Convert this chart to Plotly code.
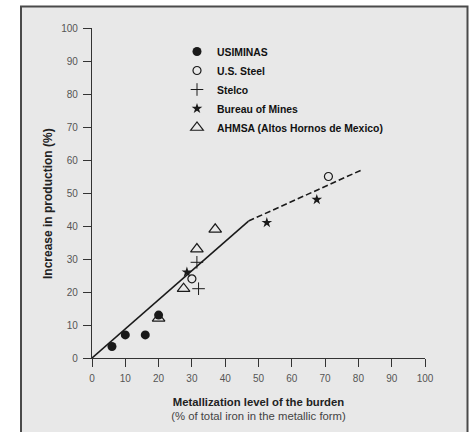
import plotly.graph_objects as go

# ---- data ----
usiminas_x = [6, 10, 16, 20]
usiminas_y = [3.5, 7, 7, 13]

ussteel_x = [30, 71]
ussteel_y = [24, 55]

stelco_x = [31.5, 32]
stelco_y = [29, 21]

bom_x = [28.5, 52.5, 67.5]
bom_y = [26, 41, 48]

ahmsa_x = [20, 27.5, 31.5, 37]
ahmsa_y = [12, 21, 33, 39]

trend_solid_x = [0, 47]
trend_solid_y = [0, 41.5]
trend_dash_x = [47, 81]
trend_dash_y = [41.5, 57]

x_ticks = [0, 10, 20, 30, 40, 50, 60, 70, 80, 90, 100]
y_ticks = [0, 10, 20, 30, 40, 50, 60, 70, 80, 90, 100]

FONT = "Liberation Sans, Arial, Helvetica, sans-serif"
INK = "#1a1a1a"

fig = go.Figure()

fig.add_trace(go.Scatter(x=trend_solid_x, y=trend_solid_y, mode="lines",
                         line=dict(color=INK, width=1.6), showlegend=False,
                         hoverinfo="skip"))
fig.add_trace(go.Scatter(x=trend_dash_x, y=trend_dash_y, mode="lines",
                         line=dict(color=INK, width=1.6, dash="6px,3px"),
                         showlegend=False, hoverinfo="skip"))

fig.add_trace(go.Scatter(x=usiminas_x, y=usiminas_y, mode="markers", name="USIMINAS",
                         marker=dict(symbol="circle", size=9, color=INK)))
fig.add_trace(go.Scatter(x=ussteel_x, y=ussteel_y, mode="markers", name="U.S. Steel",
                         marker=dict(symbol="circle-open", size=8, color=INK,
                                     line=dict(width=1.2))))
fig.add_trace(go.Scatter(x=stelco_x, y=stelco_y, mode="markers", name="Stelco",
                         marker=dict(symbol="cross-thin", size=9, color=INK,
                                     line=dict(width=1, color=INK))))
fig.add_trace(go.Scatter(x=bom_x, y=bom_y, mode="markers", name="Bureau of Mines",
                         marker=dict(symbol="star", size=8, color=INK)))
fig.add_trace(go.Scatter(x=ahmsa_x, y=ahmsa_y, mode="markers",
                         name="AHMSA (Altos Hornos de Mexico)",
                         marker=dict(symbol="triangle-up-open", size=11, color=INK,
                                     line=dict(width=1.2))))

L, R, T, B = 92, 45, 28, 74
W, H = 470, 432
pw, ph = W - L - R, H - T - B


def px(xp):
    return (xp - L) / pw


def py(yp):
    return (H - B - yp) / ph


# scanned-page frame
fig.add_shape(type="rect", xref="paper", yref="paper",
              x0=px(21), x1=px(467.5), y0=py(445), y1=py(6.5),
              line=dict(color="#4a4a4a", width=2), fillcolor="#e8e8e8",
              layer="below")

axis_common = dict(
    showgrid=False, zeroline=False, showline=True, linecolor="#333333", linewidth=1.2,
    ticks="outside", ticklen=8, tickwidth=1.2, tickcolor="#333333",
    tickfont=dict(family=FONT, size=10, color="#555555"),
    ticklabelstandoff=3,
    range=[0, 100],
)

fig.update_xaxes(**axis_common, tickvals=x_ticks,
                 title=dict(text="<b>Metallization level of the burden</b><br>"
                                 "<span style='color:#444'>(% of total iron in the metallic form)</span>",
                            font=dict(family=FONT, size=11.3, color="#222222"),
                            standoff=14))
fig.update_yaxes(**axis_common, tickvals=y_ticks)

fig.add_annotation(text="<b>Increase in production (%)</b>", textangle=-90,
                   xref="paper", yref="paper", x=px(48), y=py(204),
                   xanchor="center", yanchor="middle", showarrow=False,
                   font=dict(family=FONT, size=12, color="#222222"))

fig.update_layout(
    width=W, height=H,
    margin=dict(l=L, r=R, t=T, b=B),
    paper_bgcolor="white",
    plot_bgcolor="rgba(0,0,0,0)",
    legend=dict(x=px(177), y=py(37), xanchor="left", yanchor="top",
                bgcolor="rgba(0,0,0,0)", borderwidth=0,
                font=dict(family=FONT, size=10.4, color="#111111", weight="bold"),
                tracegroupgap=0, itemwidth=30),
    showlegend=True,
)

fig.write_html("out.html")
